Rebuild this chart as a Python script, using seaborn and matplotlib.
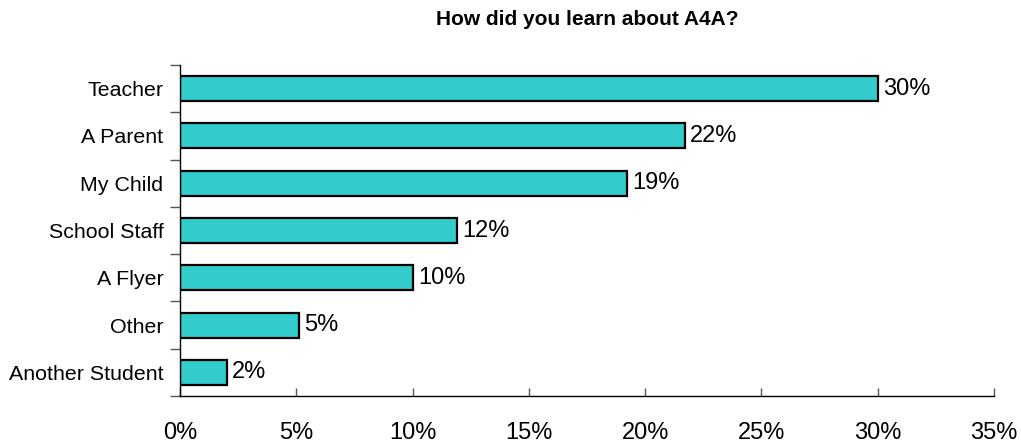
import numpy as np
import pandas as pd
import seaborn as sns
import matplotlib.pyplot as plt
from matplotlib.ticker import FixedLocator

# Données
categories = ['Teacher', 'A Parent', 'My Child', 'School Staff', 'A Flyer', 'Other', 'Another Student']
valeurs = [30.0, 21.7, 19.2, 11.9, 10.0, 5.1, 2.0]
etiquettes = ['30%', '22%', '19%', '12%', '10%', '5%', '2%']
x_ticks = [0, 5, 10, 15, 20, 25, 30, 35]
x_tick_labels = ['0%', '5%', '10%', '15%', '20%', '25%', '30%', '35%']

df = pd.DataFrame({'source': categories, 'pct': valeurs})

sns.set_style('white')
plt.rcParams['font.family'] = ['Liberation Sans', 'DejaVu Sans']
plt.rcParams['text.color'] = 'black'
plt.rcParams['xtick.color'] = 'black'
plt.rcParams['ytick.color'] = 'black'

fig = plt.figure(figsize=(10.21, 4.45), dpi=100)
ax = fig.add_axes([180 / 1021, 1 - 396 / 445, (994 - 180) / 1021, (396 - 65) / 445])

sns.barplot(data=df, x='pct', y='source', orient='h', color='#33CCCC',
            edgecolor='black', linewidth=1.6, width=0.53, saturation=1, ax=ax)

ax.bar_label(ax.containers[0], labels=etiquettes, padding=4, fontsize=17, color='black')

ax.set_xlim(0, 35)
ax.set_ylim(6.5, -0.5)
ax.set_xticks(x_ticks)
ax.set_xticklabels(x_tick_labels, fontsize=17)
ax.tick_params(axis='x', direction='in', length=6, width=1, pad=19, color='#555555', bottom=True)
ax.tick_params(axis='y', which='major', length=0, pad=12, labelsize=15.4)
ax.yaxis.set_minor_locator(FixedLocator(np.arange(-0.5, 7, 1)))
ax.tick_params(axis='y', which='minor', direction='out', length=7, width=1, color='#555555', left=True)

for s in ['top', 'right']:
    ax.spines[s].set_visible(False)
for s in ['left', 'bottom']:
    ax.spines[s].set_color('black')
    ax.spines[s].set_linewidth(1)

ax.set_xlabel('')
ax.set_ylabel('')
ax.set_title('How did you learn about A4A?', fontsize=15, fontweight='bold', pad=29)

plt.savefig('out.png', dpi=100)
